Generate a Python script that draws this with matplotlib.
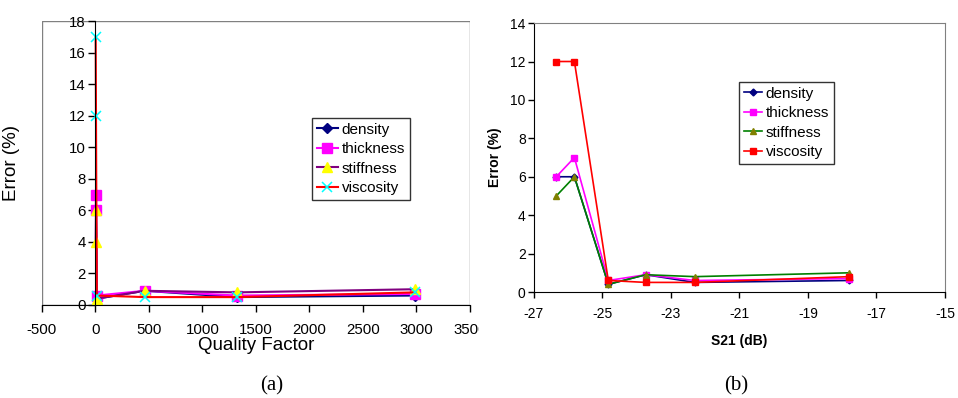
import matplotlib.pyplot as plt
from matplotlib.patches import Rectangle
from matplotlib.transforms import Bbox, TransformedBbox

plt.rcParams['font.family'] = ['Liberation Sans', 'DejaVu Sans']
plt.rcParams['axes.unicode_minus'] = False

# data
qFactor = [2, 5, 12, 460, 1320, 2990]
s21 = [-26.35, -25.82, -24.83, -23.74, -22.3, -17.8]

densityA = [6, 6, 0.4, 0.9, 0.5, 0.6]
thicknessA = [6, 7, 0.6, 0.9, 0.6, 0.7]
stiffnessA = [4, 6, 0.4, 0.9, 0.8, 1.0]
viscosityA = [17, 12, 0.6, 0.5, 0.5, 0.8]

densityB = [6, 6, 0.4, 0.9, 0.5, 0.6]
thicknessB = [6, 7, 0.6, 0.9, 0.6, 0.7]
stiffnessB = [5, 6, 0.4, 0.9, 0.8, 1.0]
viscosityB = [12, 12, 0.6, 0.5, 0.5, 0.8]

names = ['density', 'thickness', 'stiffness', 'viscosity']

fig = plt.figure(figsize=(9.58, 3.98), dpi=100)
ax1 = fig.add_axes([0.0438, 0.2337, 0.4468, 0.7133])
ax2 = fig.add_axes([0.5574, 0.2663, 0.4290, 0.6757])

############### (a) quality factor ###############
ax1.plot(qFactor, densityA, color='#000080', lw=1.5, marker='D', ms=5, mfc='#000080', mec='#000080', label=names[0])
ax1.plot(qFactor, thicknessA, color='#FF00FF', lw=1.5, marker='s', ms=7, mfc='#FF00FF', mec='#FF00FF', label=names[1])
ax1.plot(qFactor, stiffnessA, color='#800080', lw=1.5, marker='^', ms=7, mfc='#FFFF00', mec='#FFFF00', label=names[2])
ax1.plot(qFactor, viscosityA, color='#FF0000', lw=1.5, marker='x', ms=6.5, mew=1.1, mfc='#00FFFF', mec='#00FFFF', label=names[3])
ax1.set_xlim(-500, 3500)
ax1.set_ylim(0, 18)
ax1.set_xticks(range(-500, 3501, 500))
ax1.set_yticks(range(0, 19, 2))
ax1.spines['left'].set_position(('data', 0))
ax1.spines['top'].set_visible(False)
ax1.spines['right'].set_visible(False)
ax1.add_patch(Rectangle((0, 0), 1, 1, transform=ax1.transAxes, fill=False, ec='#808080', lw=1, zorder=0))
ax1.tick_params(direction='out', length=5, width=1, labelsize=10.8, pad=8)
ax1.tick_params(axis='y', pad=2)
ax1.set_xlabel('Quality Factor', fontsize=13.5, labelpad=0)
ax1.set_ylabel('Error (%)', fontsize=13.5, labelpad=0)
ax1.yaxis.set_label_coords(-0.052, 0.5, transform=ax1.transAxes)
leg1 = ax1.legend(loc='upper left', bbox_to_anchor=(0.631, 0.658), fontsize=11, frameon=True, fancybox=False,
                  edgecolor='black', handlelength=1.4, handletextpad=0.25, borderpad=0.3, labelspacing=0.36,
                  borderaxespad=0)
leg1.get_frame().set_linewidth(1)
clip = TransformedBbox(Bbox([[0, 0], [0.5, 1]]), fig.transFigure)
for lab in ax1.get_xticklabels():
    lab.set_clip_box(clip)
    lab.set_clip_on(True)

############### (b) S21 ###############
ax2.plot(s21, densityB, color='#000080', lw=1.2, marker='D', ms=3.5, mfc='#000080', mec='#000080', label=names[0])
ax2.plot(s21, thicknessB, color='#FF00FF', lw=1.2, marker='s', ms=5, mfc='#FF00FF', mec='#FF00FF', label=names[1])
ax2.plot(s21, stiffnessB, color='#008000', lw=1.2, marker='^', ms=5, mfc='#808000', mec='#808000', label=names[2])
ax2.plot(s21, viscosityB, color='#FF0000', lw=1.2, marker='s', ms=5, mfc='#FF0000', mec='#FF0000', label=names[3])
ax2.set_xlim(-27, -15)
ax2.set_ylim(0, 14)
ax2.set_xticks(range(-27, -14, 2))
ax2.set_yticks(range(0, 15, 2))
for s in ['top', 'right']:
    ax2.spines[s].set_color('#808080')
ax2.tick_params(direction='out', length=4, width=1, labelsize=10, pad=7)
ax2.tick_params(axis='y', pad=2)
ax2.set_xlabel('S21 (dB)', fontsize=10, fontweight='bold', labelpad=9)
ax2.set_ylabel('Error (%)', fontsize=10, fontweight='bold', labelpad=6)
leg2 = ax2.legend(loc='upper left', bbox_to_anchor=(0.499, 0.781), fontsize=11, frameon=True, fancybox=False,
                  edgecolor='black', handlelength=1.2, handletextpad=0.25, borderpad=0.3, labelspacing=0.36,
                  borderaxespad=0)
leg2.get_frame().set_linewidth(1)

fig.text(0.284, 0.02, '(a)', fontsize=15, family=['Liberation Serif', 'DejaVu Serif'], ha='center')
fig.text(0.768, 0.02, '(b)', fontsize=15, family=['Liberation Serif', 'DejaVu Serif'], ha='center')

plt.savefig('out.png', dpi=100)
